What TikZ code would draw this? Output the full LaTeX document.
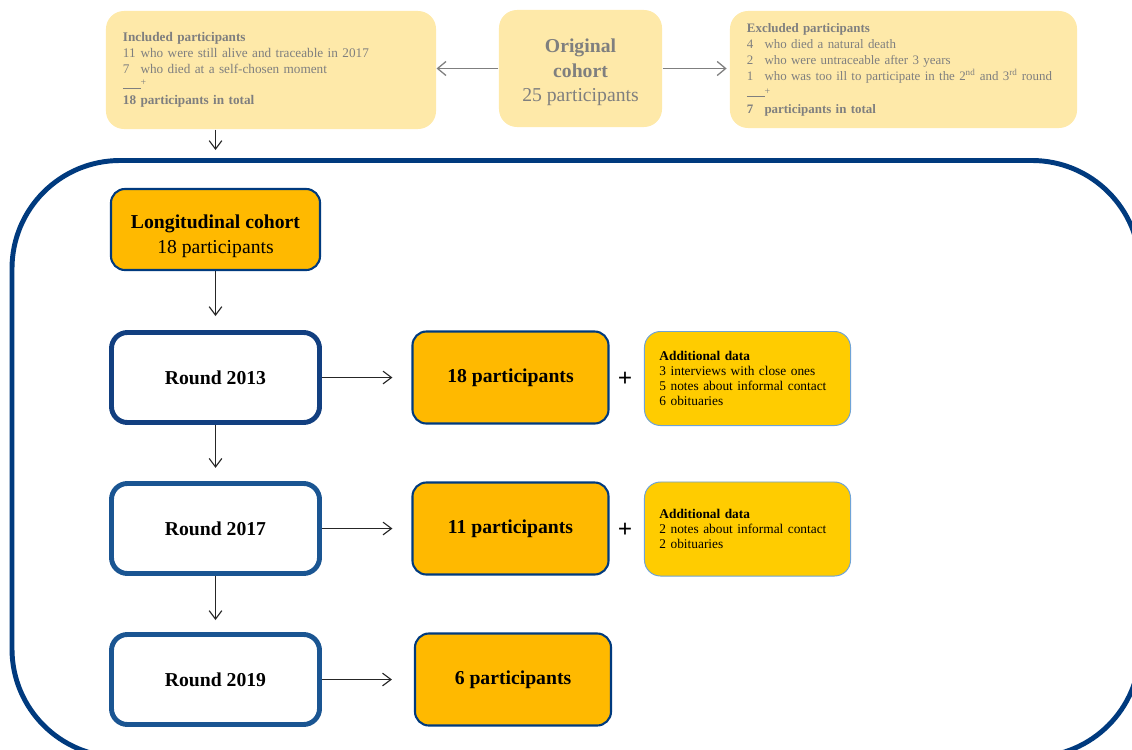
\documentclass[tikz,border=0pt]{standalone}
\usepackage{fontspec}
\setmainfont{Liberation Serif}
\usetikzlibrary{arrows.meta}

\definecolor{paleYellow}{HTML}{FEE9A9}
\definecolor{amberFill}{HTML}{FFB900}
\definecolor{goldFill}{HTML}{FFCC00}
\definecolor{frameBlue}{HTML}{003A7E}
\definecolor{darkRoundBlue}{HTML}{123F80}
\definecolor{roundBlue}{HTML}{1A5592}
\definecolor{lightBlue}{HTML}{6FA3D6}
\definecolor{grayText}{HTML}{7F7F7F}
\definecolor{strokecol}{rgb}{0.15,0.15,0.15}

\begin{document}
\begin{tikzpicture}[x=0.025cm, y=-0.025cm,
    topbox/.style={rectangle, rounded corners=0.45cm, fill=paleYellow, draw=none, text=grayText, inner ysep=0pt},
    orangebox/.style={rectangle, rounded corners=0.35cm, fill=amberFill, draw=frameBlue, line width=1.5pt, align=center},
    roundbox/.style={rectangle, rounded corners=0.4cm, fill=white, draw=roundBlue, line width=3.5pt, minimum width=5.2cm, minimum height=2.25cm, font=\fontsize{14}{17}\selectfont\bfseries},
    addbox/.style={rectangle, rounded corners=0.4cm, fill=goldFill, draw=lightBlue, line width=0.7pt, minimum width=5.15cm, minimum height=2.35cm, text width=4.4cm, align=left, font=\fontsize{9.5}{10.8}\selectfont},
    grayarrow/.style={-{Straight Barb[length=6pt,width=10pt]}, draw=grayText, line width=0.9pt},
    blackarrow/.style={-{Straight Barb[length=6pt,width=9pt]}, draw=strokecol, line width=0.8pt}]

    \pgfsetlinewidth{0.75bp}

    \def\numw{12.5pt}
    \def\sumline{\rule{12.5pt}{0.4pt}\raisebox{2pt}{\fontsize{7}{8}\selectfont+}}

    \useasboundingbox (0,0) rectangle (1132,750);
    \clip (0,0) rectangle (1132,750);

    % outer frame of the longitudinal part
    \draw[draw=frameBlue, line width=3.5pt, rounded corners=2.7cm] (12,160.5) rectangle (1140,757);

    % original cohort and its split
    \node[topbox, minimum width=4.075cm, minimum height=2.925cm, align=center, text height=47.5pt, text depth=0pt, font=\fontsize{14}{17.4}\selectfont] (orig) at (580.5,68.5) {\textbf{Original}\\ \textbf{cohort}\\ 25 participants};

    \node[topbox, minimum width=8.25cm, minimum height=2.95cm, inner xsep=0.425cm, text width=7.4cm, align=left, font=\fontsize{9.4}{11.1}\selectfont] (incl) at (271,70) {%
        \textbf{Included participants}\\
        \makebox[\numw][l]{11}who were still alive and traceable in 2017\\
        \makebox[\numw][l]{7}who died at a self-chosen moment\\
        \sumline\\
        \textbf{\makebox[\numw][l]{18}participants in total}};

    \node[topbox, minimum width=8.675cm, minimum height=2.925cm, inner xsep=0.425cm, text width=7.825cm, align=left, font=\fontsize{9.2}{11.5}\selectfont] (excl) at (903.5,69.5) {%
        \textbf{Excluded participants}\\
        \makebox[\numw][l]{4}who died a natural death\\
        \makebox[\numw][l]{2}who were untraceable after 3 years\\
        \mbox{\makebox[\numw][l]{1}who was too ill to participate in the 2\textsuperscript{nd} and 3\textsuperscript{rd} round}\\
        \sumline\\
        \textbf{\makebox[\numw][l]{7}participants in total}};

    \draw[grayarrow] (orig.west) -- (incl.east |- orig.west);
    \draw[grayarrow, shorten >=2pt] (orig.east) -- (excl.west |- orig.east);

    \coordinate (inclEnd) at (215.5,150);
    \draw[blackarrow] (inclEnd |- incl.south) -- (inclEnd);

    % longitudinal cohort and rounds
    \node[orangebox, minimum width=5.225cm, minimum height=2.025cm, text height=34pt, text depth=0pt, font=\fontsize{14}{17.4}\selectfont] (long) at (215.5,229.5) {\textbf{Longitudinal cohort}\\ 18 participants};

    \node[roundbox, draw=darkRoundBlue] (r13) at (215.5,377.5) {Round 2013};
    \node[roundbox] (r17) at (215.5,528.5) {Round 2017};
    \node[roundbox] (r19) at (215.5,679.5) {Round 2019};

    \draw[blackarrow, shorten >=0.35cm] (long) -- (r13);
    \draw[blackarrow, shorten >=0.33cm] (r13) -- (r17);
    \draw[blackarrow, shorten >=0.3cm] (r17) -- (r19);

    % participants per round
    \node[orangebox, minimum width=4.9cm, minimum height=2.3cm, font=\fontsize{14}{17}\selectfont\bfseries] (p18) at (510.5,377.5) {18 participants};
    \node[orangebox, minimum width=4.9cm, minimum height=2.3cm, font=\fontsize{14}{17}\selectfont\bfseries] (p11) at (510.5,528.5) {11 participants};
    \node[orangebox, minimum width=4.9cm, minimum height=2.3cm, font=\fontsize{14}{17}\selectfont\bfseries] (p6) at (513,679.5) {6 participants};

    \draw[blackarrow, shorten >=0.475cm] (r13) -- (p18);
    \draw[blackarrow, shorten >=0.475cm] (r17) -- (p11);
    \draw[blackarrow, shorten >=0.55cm] (r19) -- (p6);

    % additional data
    \node[font=\fontsize{18}{20}\selectfont\bfseries] (plus1) at (625,379) {+};
    \node[font=\fontsize{18}{20}\selectfont\bfseries] (plus2) at (625,530) {+};

    \node[addbox] (add13) at (747.5,378.5) {%
        \textbf{Additional data}\\
        3 interviews with close ones\\
        5 notes about informal contact\\
        6 obituaries};
    \node[addbox] (add17) at (747.5,529) {%
        \textbf{Additional data}\\
        2 notes about informal contact\\
        2 obituaries};

\end{tikzpicture}
\end{document}
